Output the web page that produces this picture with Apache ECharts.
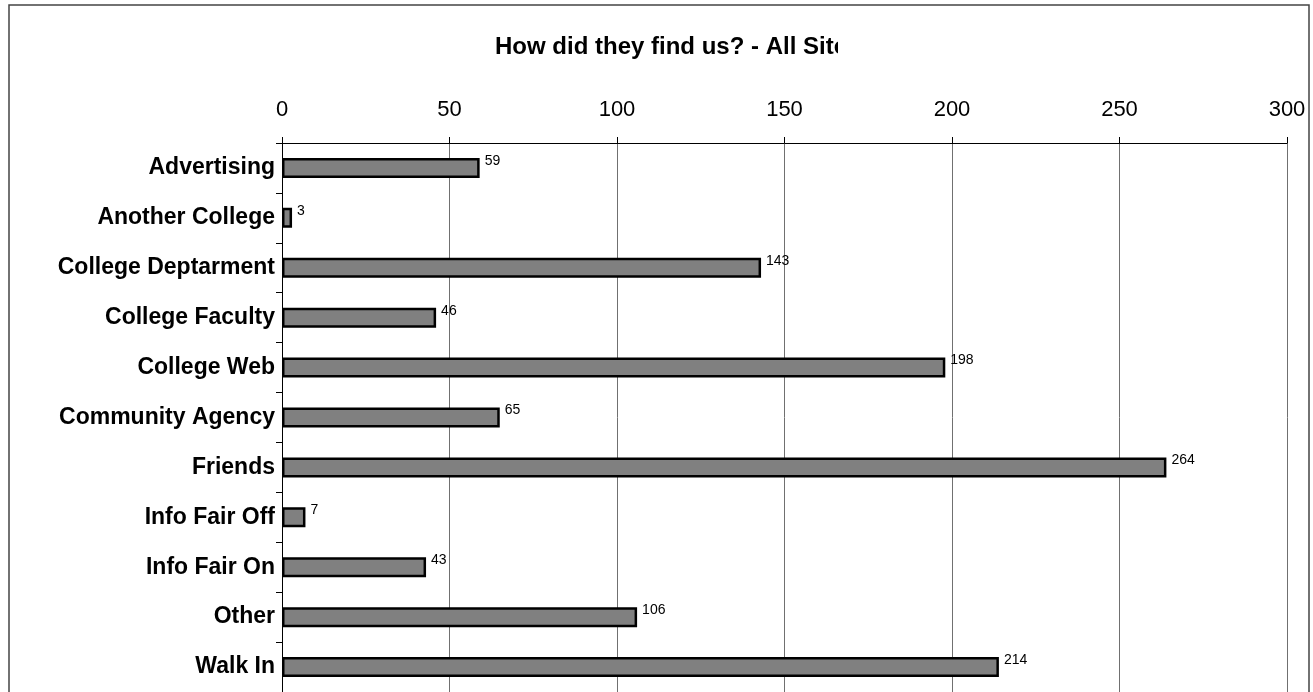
<!DOCTYPE html>
<html>
<head>
<meta charset="utf-8">
<script src="https://cdn.jsdelivr.net/npm/echarts@6/dist/echarts.min.js"></script>
<style>
  html, body { margin: 0; padding: 0; background: #fff; }
  #chart { width: 1313px; height: 692px; }
</style>
</head>
<body>
<div id="chart"></div>
<script>
// How visitors found us, counted across all sites
const categories = [
  'Advertising', 'Another College', 'College Deptarment', 'College Faculty',
  'College Web', 'Community Agency', 'Friends', 'Info Fair Off',
  'Info Fair On', 'Other', 'Walk In'
];
const counts = [59, 3, 143, 46, 198, 65, 264, 7, 43, 106, 214];
const axisTicks = [0, 50, 100, 150, 200, 250, 300];

const FONT = '"Liberation Sans", Arial, sans-serif';

const chart = echarts.init(document.getElementById('chart'), null, { renderer: 'canvas' });

chart.setOption({
  animation: false,
  backgroundColor: '#ffffff',
  title: {
    text: 'How did they find us? - All Sites',
    left: 495,
    top: 35,
    padding: 0,
    textStyle: { fontFamily: FONT, fontSize: 24, fontWeight: 'bold', color: '#000' }
  },
  graphic: [
    // chart frame
    {
      type: 'rect', z: 90, silent: true,
      shape: { x: 9, y: 5, width: 1300, height: 700 },
      style: { fill: null, stroke: '#444', lineWidth: 1.5 }
    },
    // the title is cut off at the right of its box
    {
      type: 'rect', z: 100, silent: true,
      shape: { x: 838, y: 26, width: 200, height: 44 },
      style: { fill: '#ffffff' }
    }
  ],
  grid: { left: 282, top: 143, width: 1005, height: 550, containLabel: false },
  xAxis: {
    type: 'value',
    position: 'top',
    min: axisTicks[0],
    max: axisTicks[axisTicks.length - 1],
    interval: axisTicks[1] - axisTicks[0],
    axisLine: { show: true, lineStyle: { color: '#000', width: 1 } },
    axisTick: { show: true, length: 6, lineStyle: { color: '#000' } },
    axisLabel: { margin: 22, fontFamily: FONT, fontSize: 22, color: '#000' },
    splitLine: { show: true, lineStyle: { color: '#707070', width: 1 } }
  },
  yAxis: {
    type: 'category',
    inverse: true,
    data: categories,
    axisLine: { show: true, lineStyle: { color: '#000', width: 1 } },
    axisTick: { show: true, length: 6, lineStyle: { color: '#000' } },
    axisLabel: { margin: 7, fontFamily: FONT, fontSize: 23, fontWeight: 'bold', color: '#000' },
    splitLine: { show: false }
  },
  series: [{
    type: 'bar',
    data: counts,
    barWidth: 20,
    itemStyle: { color: '#808080', borderColor: '#000', borderWidth: 2.5 },
    label: {
      show: true,
      position: 'right',
      distance: 5,
      offset: [0, -7],
      fontFamily: FONT,
      fontSize: 14,
      color: '#000'
    }
  }]
});
</script>
</body>
</html>
